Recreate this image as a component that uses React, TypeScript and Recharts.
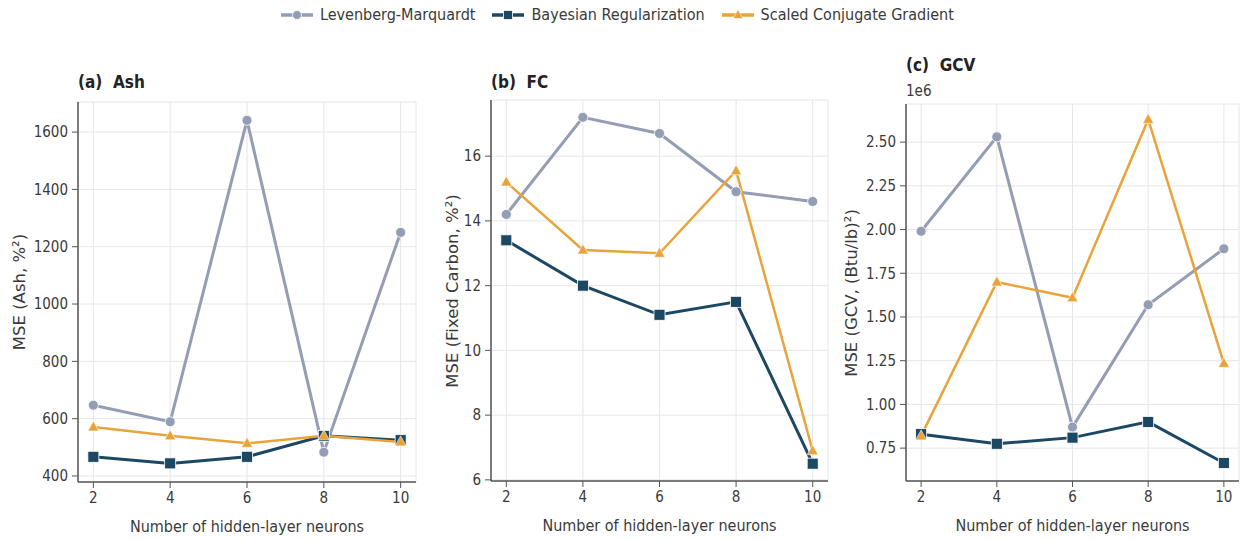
import React from "react"
import { LineChart, Line, XAxis, YAxis, CartesianGrid, Label } from "recharts"

// hidden-layer neurons tested
const neurons = [2, 4, 6, 8, 10]
const xTicks = [2, 4, 6, 8, 10]

// (a) Ash
const ashLM = [647, 589, 1641, 483, 1250]
const ashBR = [467, 444, 467, 540, 525]
const ashSCG = [571, 540, 514, 540, 519]
const ashTicks = [400, 600, 800, 1000, 1200, 1400, 1600]

// (b) Fixed carbon
const fcLM = [14.2, 17.2, 16.7, 14.9, 14.6]
const fcBR = [13.4, 12.0, 11.1, 11.5, 6.5]
const fcSCG = [15.2, 13.1, 13.0, 15.55, 6.9]
const fcTicks = [6, 8, 10, 12, 14, 16]

// (c) GCV, values in (Btu/lb)^2
const gcvLM = [1990000, 2530000, 870000, 1570000, 1890000]
const gcvBR = [830000, 775000, 810000, 900000, 665000]
const gcvSCG = [820000, 1700000, 1610000, 2630000, 1235000]
const gcvTicks = [750000, 1000000, 1250000, 1500000, 1750000, 2000000, 2250000, 2500000]

const seriesNames = ["Levenberg-Marquardt", "Bayesian Regularization", "Scaled Conjugate Gradient"]
const COLORS = { lm: "#939db4", br: "#1c4863", scg: "#e8a43a" }

const FONT = "'DejaVu Sans Condensed', 'DejaVu Sans', sans-serif"
const TEXT = "#3a3a3a"

function buildRows(lm: number[], br: number[], scg: number[]) {
  return neurons.map((n, i) => ({ n, lm: lm[i], br: br[i], scg: scg[i] }))
}

const Square = (props: any) => {
  const { cx, cy } = props
  if (cx == null || cy == null) return null
  return <rect x={cx - 5.5} y={cy - 5.5} width={11} height={11} fill={COLORS.br} stroke="#fff" strokeWidth={0.8} />
}

const Triangle = (props: any) => {
  const { cx, cy } = props
  if (cx == null || cy == null) return null
  return (
    <polygon
      points={`${cx},${cy - 6} ${cx - 5.5},${cy + 4} ${cx + 5.5},${cy + 4}`}
      fill={COLORS.scg}
      stroke="#fff"
      strokeWidth={0.6}
    />
  )
}

interface PanelProps {
  title: string
  yLabel: string
  rows: any[]
  domain: [number, number]
  ticks: number[]
  plotLeft: number
  plotRight: number
  plotTop: number
  plotBottom: number
  yLabelGap: number
  titleTop: number
  fmt?: (v: number) => string
  exponent?: string
}

const AXIS_W = 80
const CHART_TOP = 88
const XAXIS_H = 56

function Panel(p: PanelProps) {
  const left = p.plotLeft - AXIS_W
  const width = p.plotRight - left + 1
  const height = p.plotBottom - CHART_TOP + XAXIS_H
  const tickStyle = { fill: TEXT, fontSize: 15, fontFamily: FONT }
  return (
    <>
      <div
        style={{
          position: "absolute",
          left: p.plotLeft,
          top: p.titleTop,
          fontFamily: FONT,
          fontWeight: "bold",
          fontSize: 17,
          color: "#222",
          whiteSpace: "pre",
        }}
      >
        {p.title}
      </div>
      {p.exponent && (
        <div
          style={{
            position: "absolute",
            left: p.plotLeft,
            top: p.titleTop + 27,
            fontFamily: FONT,
            fontSize: 15,
            color: TEXT,
          }}
        >
          {p.exponent}
        </div>
      )}
      <div
        style={{
          position: "absolute",
          left: p.plotLeft - p.yLabelGap - 150,
          top: (p.plotTop + p.plotBottom) / 2 - 10,
          width: 300,
          height: 20,
          lineHeight: "20px",
          textAlign: "center",
          transform: "rotate(-90deg)",
          fontFamily: "'DejaVu Sans', sans-serif",
          fontSize: 16.5,
          color: TEXT,
          whiteSpace: "nowrap",
        }}
      >
        {p.yLabel}
      </div>
      <div style={{ position: "absolute", left, top: CHART_TOP }}>
        <LineChart
          width={width}
          height={height}
          data={p.rows}
          margin={{ top: p.plotTop - CHART_TOP, right: 1, bottom: 0, left: 0 }}
        >
          <CartesianGrid stroke="#e6e6e6" strokeWidth={1} />
          <XAxis
            dataKey="n"
            type="number"
            domain={[1.6, 10.4]}
            ticks={xTicks}
            height={XAXIS_H}
            tick={tickStyle}
            tickSize={6}
            tickMargin={4}
            axisLine={{ stroke: "#555", strokeWidth: 1.5 }}
            tickLine={{ stroke: "#555" }}
            allowDataOverflow
          >
            <Label
              value="Number of hidden-layer neurons"
              position="insideBottom"
              offset={6}
              style={{ fill: TEXT, fontSize: 16, fontFamily: FONT }}
            />
          </XAxis>
          <YAxis
            type="number"
            domain={p.domain}
            ticks={p.ticks}
            width={AXIS_W}
            tick={tickStyle}
            tickSize={6}
            tickMargin={4}
            tickFormatter={p.fmt}
            axisLine={{ stroke: "#555", strokeWidth: 1.5 }}
            tickLine={{ stroke: "#555" }}
            allowDataOverflow
          />
          <Line
            dataKey="lm"
            stroke={COLORS.lm}
            strokeWidth={3}
            dot={{ r: 5, fill: COLORS.lm, stroke: "#fff", strokeWidth: 0.8 }}
            isAnimationActive={false}
          />
          <Line
            dataKey="br"
            stroke={COLORS.br}
            strokeWidth={3}
            dot={<Square />}
            isAnimationActive={false}
          />
          <Line
            dataKey="scg"
            stroke={COLORS.scg}
            strokeWidth={2.5}
            dot={<Triangle />}
            isAnimationActive={false}
          />
        </LineChart>
      </div>
    </>
  )
}

function LegendIcon({ kind }: { kind: "lm" | "br" | "scg" }) {
  const c = COLORS[kind]
  return (
    <svg width={34} height={14} style={{ marginRight: 6 }}>
      <line x1={1} y1={7} x2={33} y2={7} stroke={c} strokeWidth={3.5} />
      {kind === "lm" && <circle cx={17} cy={7} r={4.5} fill={c} stroke="#fff" strokeWidth={0.8} />}
      {kind === "br" && <rect x={12.5} y={2.5} width={9} height={9} fill={c} stroke="#fff" strokeWidth={0.8} />}
      {kind === "scg" && <polygon points="17,1.5 12,10.5 22,10.5" fill={c} stroke="#fff" strokeWidth={0.6} />}
    </svg>
  )
}

export default function App() {
  const kinds: ("lm" | "br" | "scg")[] = ["lm", "br", "scg"]
  return (
    <div style={{ position: "absolute", left: 0, top: 0, width: 1241, height: 540, background: "#fff", overflow: "hidden" }}>
      <div
        style={{
          position: "absolute",
          left: 280,
          top: 5,
          display: "flex",
          fontFamily: FONT,
          fontSize: 16,
          color: TEXT,
        }}
      >
        {kinds.map((k, i) => (
          <div key={k} style={{ display: "flex", alignItems: "center", marginRight: i < 2 ? 16 : 0 }}>
            <LegendIcon kind={k} />
            <span>{seriesNames[i]}</span>
          </div>
        ))}
      </div>
      <Panel
        title="(a)  Ash"
        yLabel="MSE (Ash, %²)"
        rows={buildRows(ashLM, ashBR, ashSCG)}
        domain={[379, 1705]}
        ticks={ashTicks}
        plotLeft={78}
        plotRight={416}
        plotTop={102}
        plotBottom={482}
        yLabelGap={58}
        titleTop={72}
      />
      <Panel
        title="(b)  FC"
        yLabel="MSE (Fixed Carbon, %²)"
        rows={buildRows(fcLM, fcBR, fcSCG)}
        domain={[5.965, 17.735]}
        ticks={fcTicks}
        plotLeft={491}
        plotRight={828}
        plotTop={100}
        plotBottom={481}
        yLabelGap={38}
        titleTop={72}
      />
      <Panel
        title="(c)  GCV"
        yLabel="MSE (GCV, (Btu/lb)²)"
        rows={buildRows(gcvLM, gcvBR, gcvSCG)}
        domain={[562000, 2718000]}
        ticks={gcvTicks}
        plotLeft={906}
        plotRight={1239}
        plotTop={104}
        plotBottom={481}
        yLabelGap={54}
        titleTop={55}
        fmt={(v: number) => (v / 1e6).toFixed(2)}
        exponent="1e6"
      />
    </div>
  )
}
